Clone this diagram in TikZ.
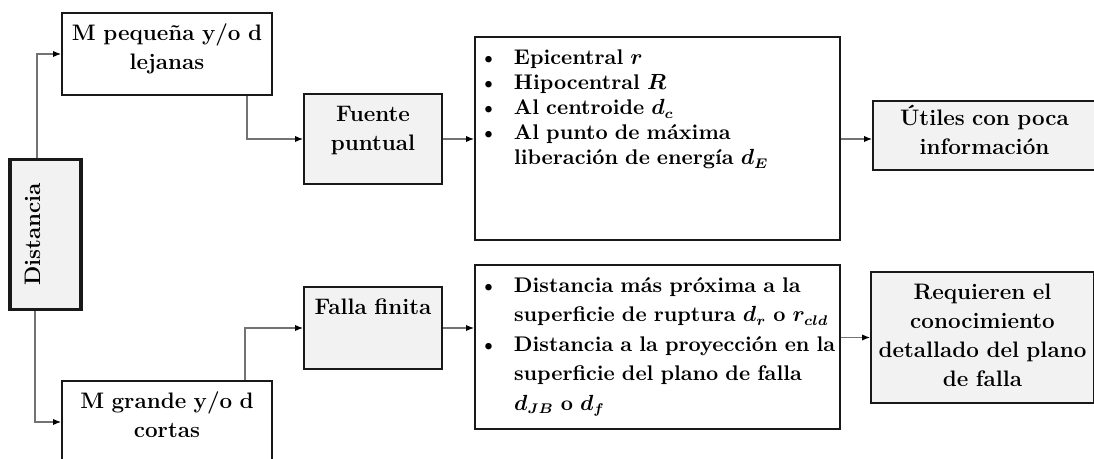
\documentclass[tikz,border=0pt]{standalone}
\usepackage{fontspec}
\usetikzlibrary{positioning, arrows.meta}

\begin{document}
\begin{tikzpicture}[x=0.5pt, y=-0.5pt,
    box/.style={draw=black!90, line width=1pt, rectangle, inner xsep=2pt, inner ysep=4pt, text height=9.75pt, align=center, font=\fontsize{11.2}{14.5}\selectfont\bfseries},
    rangebox/.style={box, text width=101pt, text depth=23.25pt},
    sourcebox/.style={box, fill=gray!10, text width=65pt},
    listbox/.style={box, align=left, text width=178.5pt, font=\fontsize{10.6}{#1}\selectfont\bfseries\boldmath},
    usebox/.style={box, fill=gray!10, text width=107.5pt},
    edge/.style={draw=black!55, line width=0.6pt, -{Latex[length=4pt, width=3.2pt, color=black]}}
]
\useasboundingbox (0,0) rectangle (1094,459);

% Knoten
\node[box, fill=gray!10, line width=1.6pt, rotate=90, text width=71pt, text height=11pt, text depth=16.5pt] (dist) at (45.5,234.5) {Distancia};
\node[rangebox, anchor=north] (mpeq) at (167,12) {M pequeña y/o d\\lejanas};
\node[rangebox, anchor=north] (mgrande) at (167,380) {M grande y/o d\\cortas};
\node[sourcebox, anchor=north, text depth=27.25pt] (fuente) at (373,93) {Fuente\\puntual};
\node[sourcebox, anchor=north, text depth=23.25pt] (falla) at (373,286) {Falla finita};
\node[listbox=12.5, text depth=83.75pt, right=15.5pt of fuente] (lista1) {%
  \begin{tabular}[t]{@{}p{17.5pt}@{}l@{}}
  \textbullet & Epicentral $r$\\
  \textbullet & Hipocentral $R$\\
  \textbullet & Al centroide $d_c$\\
  \textbullet & Al punto de máxima\\
              & liberación de energía $d_E$
  \end{tabular}};
\node[listbox=14.75, text depth=64.25pt, right=15.5pt of falla, yshift=-9.5pt] (lista2) {%
  \begin{tabular}[t]{@{}p{17.5pt}@{}l@{}}
  \textbullet & Distancia más próxima a la\\
              & superficie de ruptura $d_r$ o $r_{cld}$\\
  \textbullet & Distancia a la proyección en la\\
              & superficie del plano de falla\\
              & $d_{JB}$ o $d_f$
  \end{tabular}};
\node[usebox, text height=8.5pt, text depth=18pt, right=15.5pt of lista1, yshift=1.75pt] (utiles) {Útiles con poca\\información};
\node[usebox, text depth=47.75pt, right=14.5pt of lista2, yshift=4.75pt] (requieren) {Requieren el\\conocimiento\\detallado del plano\\de falla};

% Kanten zwischen Knoten
\draw[edge] ([xshift=-4.25pt]dist.east) |- (mpeq.west);
\draw[edge] ([xshift=-5.25pt]dist.west) |- (mgrande.west);
\draw[edge] ([xshift=40pt]mpeq.south) |- (fuente.west);
\draw[edge] ([xshift=39pt]mgrande.north) |- (falla.west);
\draw[edge] (fuente.east) -- (lista1.west);
\draw[edge] (falla.east) -- (falla.east -| lista2.west);
\draw[edge] (lista1.east) -- (lista1.east -| utiles.west);
\draw[edge] (requieren.west -| lista2.east) -- (requieren.west);

\end{tikzpicture}
\end{document}
